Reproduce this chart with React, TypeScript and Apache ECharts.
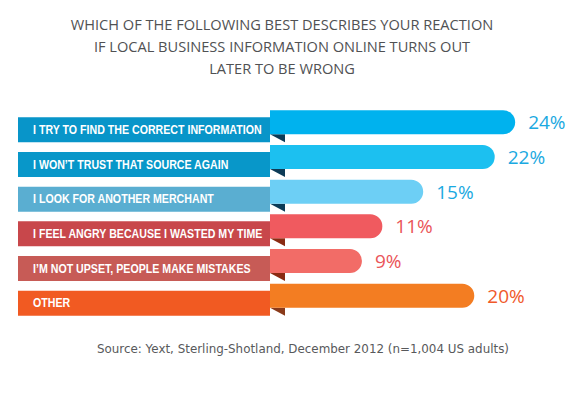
import React, { useEffect, useRef } from "react";
import * as echarts from "echarts";

const categories = [
  "I TRY TO FIND THE CORRECT INFORMATION",
  "I WON\u2019T TRUST THAT SOURCE AGAIN",
  "I LOOK FOR ANOTHER MERCHANT",
  "I FEEL ANGRY BECAUSE I WASTED MY TIME",
  "I\u2019M NOT UPSET, PEOPLE MAKE MISTAKES",
  "OTHER",
];
const values = [24, 22, 15, 11, 9, 20];

const barColors = ["#00b2ee", "#1cc0f0", "#6dcff5", "#f05a5f", "#f26c67", "#f37d22"];
const bandColors = ["#0895c9", "#0897c9", "#5aaed1", "#c8474b", "#c75b56", "#f15a22"];
const foldColors = ["#0c3b57", "#0c3b57", "#0c3b57", "#8a2a12", "#8a2a12", "#8a3a1a"];
const labelColors = ["#1aa9e1", "#1aa9e1", "#1aa9e1", "#ea5559", "#ea5559", "#f0592a"];

const titleText =
  "WHICH OF THE FOLLOWING BEST DESCRIBES YOUR REACTION\nIF LOCAL BUSINESS INFORMATION ONLINE TURNS OUT\nLATER TO BE WRONG";
const sourceText = "Source: Yext, Sterling-Shotland, December 2012 (n=1,004 US adults)";

const BAND_FONT = "bold 12px 'Liberation Sans', Arial, sans-serif";

function measure(text: string, font: string): number {
  const c = document.createElement("canvas");
  const ctx = c.getContext("2d");
  if (!ctx) return 280;
  ctx.font = font;
  return ctx.measureText(text).width;
}

export default function App() {
  const ref = useRef<HTMLDivElement>(null);
  useEffect(() => {
    if (!ref.current) return;
    const chart = echarts.init(ref.current, null, { renderer: "svg" });
    const data = values.map((v, i) => [i, v]);
    const w = measure(categories[0], BAND_FONT);
    const squeeze = w > 0 ? 229 / w : 0.82;
    chart.setOption({
      animation: false,
      backgroundColor: "#ffffff",
      title: {
        text: titleText,
        left: 282,
        top: 13,
        textAlign: "center",
        padding: 0,
        textStyle: {
          fontFamily: "'Open Sans', sans-serif",
          fontSize: 14.6,
          fontWeight: "normal",
          color: "#505153",
          lineHeight: 22,
        },
      },
      graphic: [
        {
          type: "text",
          left: 97,
          top: 343,
          style: {
            text: sourceText,
            fill: "#58595b",
            font: "11.9px 'DejaVu Sans', sans-serif",
          },
        },
      ],
      grid: { left: 270, right: 18, top: 105, height: 208 },
      xAxis: { type: "value", min: 0, max: 28, show: false },
      yAxis: {
        type: "category",
        data: categories,
        inverse: true,
        show: false,
      },
      series: [
        {
          type: "custom",
          encode: { x: 1, y: 0 },
          data,
          renderItem: (params: any, api: any) => {
            const i = api.value(0);
            const v = api.value(1);
            const end = api.coord([v, i]);
            const start = api.coord([0, i]);
            const x0 = start[0];
            const yc = start[1];
            const xe = end[0];
            return {
              type: "group",
              children: [
                {
                  type: "rect",
                  shape: { x: 18, y: yc - 5, width: x0 - 18, height: 25 },
                  style: { fill: bandColors[i] },
                },
                {
                  type: "polygon",
                  shape: { points: [[x0, yc + 12], [x0 + 15, yc + 12], [x0 + 15, yc + 20]] },
                  style: { fill: foldColors[i] },
                },
                {
                  type: "rect",
                  shape: { x: x0, y: yc - 12, width: xe - x0, height: 24, r: [0, 12, 12, 0] },
                  style: { fill: barColors[i] },
                },
                {
                  type: "text",
                  x: 33,
                  y: yc + 7.5,
                  scaleX: squeeze,
                  style: {
                    text: categories[i],
                    x: 0,
                    y: 0,
                    verticalAlign: "middle",
                    align: "left",
                    fill: "#ffffff",
                    font: BAND_FONT,
                  },
                },
                {
                  type: "text",
                  style: {
                    text: v + "%",
                    x: xe + 13,
                    y: yc,
                    verticalAlign: "middle",
                    align: "left",
                    fill: labelColors[i],
                    font: "19px 'Open Sans', sans-serif",
                  },
                },
              ],
            };
          },
        },
      ],
    });
    return () => chart.dispose();
  }, []);
  return (
    <div
      ref={ref}
      style={{ position: "absolute", left: 0, top: 0, width: 574, height: 399 }}
    />
  );
}
